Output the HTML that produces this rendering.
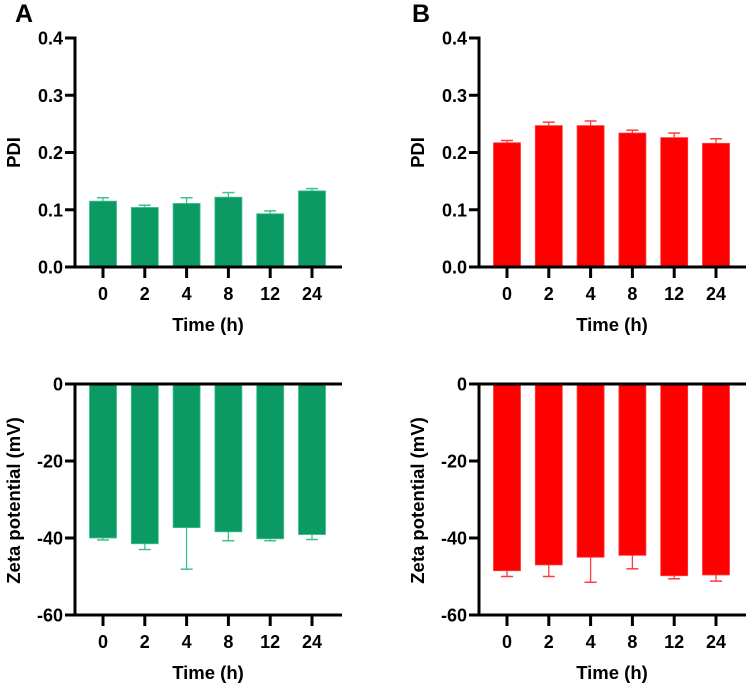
<!DOCTYPE html>
<html><head><meta charset="utf-8"><style>
body{margin:0;background:#fff}
svg{display:block;font-family:"Liberation Sans",Arial,sans-serif;font-weight:bold}
svg text{font-weight:bold}
</style></head><body>
<svg id="fig" width="750" height="688" viewBox="0 0 750 688">
<text x="15" y="22" font-size="25">A</text>
<text x="412" y="22" font-size="25">B</text>
</svg>
<script>
const categories = ["0","2","4","8","12","24"];
const pdiA = [0.115,0.104,0.111,0.122,0.093,0.133];
const pdiAErr = [0.006,0.004,0.010,0.008,0.005,0.004];
const pdiB = [0.217,0.247,0.247,0.234,0.226,0.216];
const pdiBErr = [0.004,0.006,0.008,0.005,0.008,0.008];
const zetaA = [-40.0,-41.5,-37.3,-38.4,-40.2,-39.1];
const zetaAErr = [0.5,1.5,10.8,2.3,0.5,1.3];
const zetaB = [-48.5,-47.0,-45.0,-44.5,-49.8,-49.6];
const zetaBErr = [1.5,3.0,6.5,3.5,0.8,1.6];
const pdiTicks = [0,0.1,0.2,0.3,0.4];
const pdiTickLabels = ["0.0","0.1","0.2","0.3","0.4"];
const zetaTicks = [0,-20,-40,-60];
const zetaTickLabels = ["0","-20","-40","-60"];

const NS="http://www.w3.org/2000/svg";
const svg=document.getElementById('fig');
function mk(tag,attrs,parent){const e=document.createElementNS(NS,tag);for(const k in attrs)e.setAttribute(k,attrs[k]);(parent||svg).appendChild(e);return e;}

function panel(ox,top,bottom,yMin,yMax,ticks,tickLabels,vals,errs,fill,stroke,yTitle,name,negative){
  const g=mk('g',{});
  
  
  const ax=ox+75, xEnd=ox+342;
  const y=v=>bottom-(v-yMin)/(yMax-yMin)*(bottom-top);
  const x=i=>ox+103+i*41.8;
  const bw=27;
  const base=y(0);
  vals.forEach((v,i)=>{
    const cx=x(i), yv=y(v), ye=negative? y(v-errs[i]) : y(v+errs[i]);
    const el=mk('line',{x1:cx,x2:cx,y1:yv,y2:ye,stroke:stroke,'stroke-width':1.3},g);
    
    
    const cap=mk('line',{x1:cx-6,x2:cx+6,y1:ye,y2:ye,stroke:stroke,'stroke-width':1.5},g);
    
    
    const r=mk('rect',{x:cx-bw/2,y:Math.min(yv,base),width:bw,height:Math.abs(base-yv),fill:fill,stroke:stroke,'stroke-width':0.8},g);
    
    
  });
  const ya=mk('line',{x1:ax,x2:ax,y1:top-1.5,y2:bottom+1.5,stroke:'#000','stroke-width':3},g);
  
  
  const xa=mk('line',{x1:ax-10,x2:xEnd,y1:base,y2:base,stroke:'#000','stroke-width':3},g);
  
  
  if(negative){
    const bl=mk('line',{x1:ax-10,x2:xEnd,y1:bottom,y2:bottom,stroke:'#000','stroke-width':3},g);
    
    
  }
  ticks.forEach((t,i)=>{
    const ty=y(t);
    mk('line',{x1:ax-10,x2:ax,y1:ty,y2:ty,stroke:'#000','stroke-width':3},g);
    const tx=mk('text',{x:ax-12,y:ty+6.5,'font-size':18,'text-anchor':'end'},g);
    tx.textContent=tickLabels[i];
    
    
  });
  categories.forEach((c,i)=>{
    mk('line',{x1:x(i),x2:x(i),y1:bottom,y2:bottom+11,stroke:'#000','stroke-width':3},g);
    const tx=mk('text',{x:x(i),y:bottom+33,'font-size':18,'text-anchor':'middle'},g);
    tx.textContent=c;
    
    
  });
  const xt=mk('text',{x:ox+208,y:bottom+64,'font-size':18.5,'text-anchor':'middle'},g);
  xt.textContent='Time (h)';
  
  
  const cy=(top+bottom)/2+(negative?1:0);
  const yt=mk('text',{x:0,y:0,'font-size':18.5,'text-anchor':'middle',transform:`translate(${ox+20},${cy}) rotate(-90)`},g);
  yt.textContent=yTitle;
  
  
}
const green='#0b9a63', greenLine='#3fc08e', red='#ff0000', redLine='#ff3b3b';
panel(0,38,267,0,0.4,pdiTicks,pdiTickLabels,pdiA,pdiAErr,green,greenLine,'PDI','pdi-chart-a',false);
panel(404,38,267,0,0.4,pdiTicks,pdiTickLabels,pdiB,pdiBErr,red,redLine,'PDI','pdi-chart-b',false);
panel(0,384,615,-60,0,zetaTicks,zetaTickLabels,zetaA,zetaAErr,green,greenLine,'Zeta potential (mV)','zeta-chart-a',true);
panel(404,384,615,-60,0,zetaTicks,zetaTickLabels,zetaB,zetaBErr,red,redLine,'Zeta potential (mV)','zeta-chart-b',true);
</script>
</body></html>
